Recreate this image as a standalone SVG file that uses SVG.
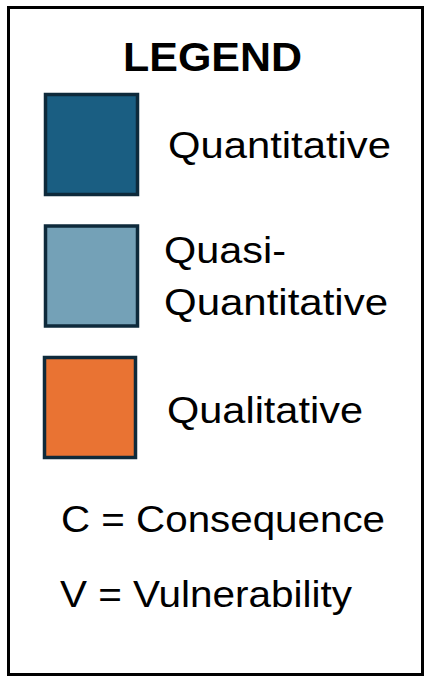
<svg xmlns="http://www.w3.org/2000/svg" width="426" height="678" viewBox="0 0 426 678">
<style>
.t{font-family:"Liberation Sans",Arial,sans-serif;font-size:37px;fill:#000}
.h{font-family:"Liberation Sans",Arial,sans-serif;font-size:40px;font-weight:bold;fill:#000}
.sw{stroke:#0e2a3b;stroke-width:3.5}
</style>
<rect x="8.5" y="7.5" width="414" height="667" fill="#fff" stroke="#000" stroke-width="3"/>
<g id="title"><text class="h" x="123" y="71" textLength="179" lengthAdjust="spacingAndGlyphs">LEGEND</text></g>
<g id="quantitative">
<rect class="sw" x="45.5" y="94.5" width="92" height="100" fill="#1a5e82"/>
<text class="t" x="168" y="158" textLength="223" lengthAdjust="spacingAndGlyphs">Quantitative</text>
</g>
<g id="quasi">
<rect class="sw" x="45.5" y="226" width="92" height="100" fill="#74a1b7"/>
<text class="t" x="164" y="263" textLength="122" lengthAdjust="spacingAndGlyphs">Quasi-</text>
<text class="t" x="164" y="315" textLength="224" lengthAdjust="spacingAndGlyphs">Quantitative</text>
</g>
<g id="qualitative">
<rect class="sw" x="44.5" y="357.5" width="91" height="100" fill="#e97333"/>
<text class="t" x="167" y="423" textLength="196" lengthAdjust="spacingAndGlyphs">Qualitative</text>
</g>
<g id="notes">
<text class="t" x="61" y="532" textLength="324" lengthAdjust="spacingAndGlyphs">C = Consequence</text>
<text class="t" x="60" y="607" textLength="292" lengthAdjust="spacingAndGlyphs">V = Vulnerability</text>
</g>
<g id="connectors"/>
</svg>
